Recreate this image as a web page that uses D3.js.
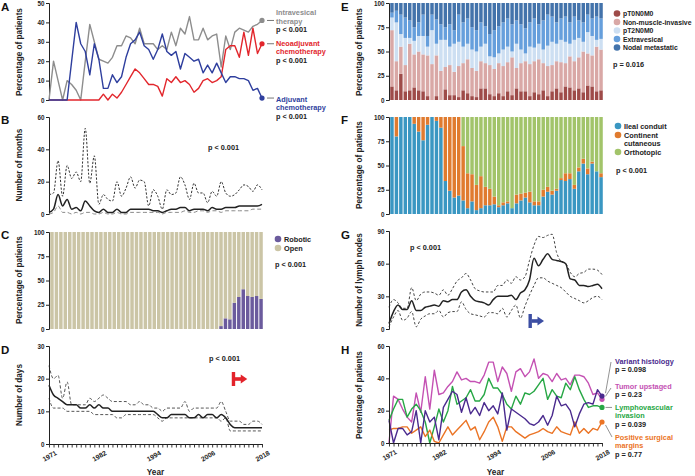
<!DOCTYPE html>
<html><head><meta charset="utf-8">
<script src="https://cdn.jsdelivr.net/npm/d3@7"></script>
<style>body{margin:0;background:#fff}svg{display:block}</style>
</head><body><svg id="c" width="695" height="476"></svg>
<script>
// ---------- DATA ----------
const years = [1971,1972,1973,1974,1975,1976,1977,1978,1979,1980,1981,1982,1983,1984,1985,1986,1987,1988,1989,1990,1991,1992,1993,1994,1995,1996,1997,1998,1999,2000,2001,2002,2003,2004,2005,2006,2007,2008,2009,2010,2011,2012,2013,2014,2015,2016,2017,2018];
const yearLabels = [1971, 1982, 1994, 2006, 2018];

// A: percentage of patients receiving therapy
const intravesical = [0,20,10,0,10,8,5,0,20,39, 30,21,20,19,22,28,28,33,32,29, 37,29,29,29,26,28,26,35,28,37, 34,43,31,31,37,31,33,34,17,33, 26,35,37,36,35,38,39,41];
const neoadjuvant  = [0,0,0,0,0,0,0,0,0,0, 0,0,3,0,3,1,4,8,12,16, 14,11,8,8,7,2,11,9,12,9, 10,8,4,6,10,11,9,10,12,26, 28,28,22,35,23,37,24,29];
const adjuvant     = [0,0,0,0,0,20,40,29,25,13, 29,21,6,6,13,9,12,22,29,31, 35,28,26,21,26,34,25,23,25,16, 24,22,20,21,14,18,14,19,14,9, 12,12,11,11,10,5,6,1];
const pA = ["p < 0.001", "p < 0.001", "p < 0.001"];

// B: number of months (median, IQR)
const monthsMedian = [1,3,12,5,9,3,4,2,8,5, 2,1,3,1,1,3,1,1,3,3, 3,3,3,2,2,1,2,3,3,4, 4,2,3,3,3,2,4,3,3,4, 4,4,5,5,5,5,5,6];
const monthsUpper  = [12,13,33,11,30,22,26,20,53,19, 36,6,12,9,8,20,11,16,23,16, 21,20,5,15,11,3,15,12,13,23, 18,9,19,13,13,7,14,11,20,13, 11,12,15,18,17,14,18,15];
const monthsLower  = [0,1,5,1,1,0,1,0,1,1, 0,0,1,0,0,1,0,0,1,1, 1,1,1,1,1,0,1,1,1,1, 2,1,1,2,2,1,2,2,1,2, 2,2,2,2,2,3,3,3];

// C: surgical approach (%)
const robotic = [0,0,0,0,0,0,0,0,0,0, 0,0,0,0,0,0,0,0,0,0, 0,0,0,0,0,0,0,0,0,0, 0,0,0,0,0,0,0,0,3,11, 10,27,33,41,34,33,34,31];
const openSurg = [100,100,100,100,100,100,100,100,100,100, 100,100,100,100,100,100,100,100,100,100, 100,100,100,100,100,100,100,100,100,100, 100,100,100,100,100,100,100,100,97,89, 90,73,67,59,66,67,66,69];

// D: number of days (median, IQR)
const daysMedian = [18,15,14,13,12,12,12,11,11,12, 11,12,11,11,10,10,10,10,10,10, 10,10,10,10,9,8,8,9,9,9, 9,8,8,9,8,9,9,8,9,8, 6,5,5,5,5,5,5,5];
const daysUpper  = [24,20,21,14,19,12,12,12,12,14, 13,14,15,14,13,13,13,13,12,12, 13,12,12,11,11,10,11,11,11,11, 13,10,11,11,11,11,11,11,13,10, 7,7,7,6,6,7,7,6];
const daysLower  = [14,11,11,11,10,10,10,10,10,10, 9,9,9,9,9,8,8,9,9,9, 9,9,9,9,8,7,8,8,8,8, 8,8,8,8,8,8,8,8,7,8, 4,4,4,4,4,4,4,4];

// E: pathological stage (%)
const pT0N0M0    = [14,10,27,9,10,13,10,9,4,0, 4,0,11,5,5,3,10,7,4,3, 12,12,6,4,7,4,9,5,12,9, 9,4,8,6,10,4,9,12,8,14, 13,10,12,8,15,14,9,10];
const nonMuscle  = [58,30,28,27,48,34,40,38,42,37, 42,30,23,31,24,32,28,35,29,27, 28,26,30,28,31,31,30,39,21,29, 31,33,32,36,28,31,27,28,31,24, 32,30,32,42,33,32,46,42];
const pT2N0M0    = [13,40,13,28,6,14,16,19,9,35, 12,32,28,19,29,25,17,16,19,20, 15,20,9,12,10,17,16,6,25,14, 8,18,14,16,14,21,24,18,23,22, 13,22,20,10,22,20,7,11];
const extravesical = [5,12,20,21,18,14,14,22,11,16, 25,16,13,23,14,28,25,26,23,22, 25,18,23,28,28,28,29,28,24,26, 26,25,30,20,30,32,26,22,22,26, 22,24,18,20,18,18,24,21];
const nodalMet   = [10,8,12,15,18,25,20,12,34,12, 17,22,25,22,28,12,20,16,25,28, 20,24,32,28,24,20,16,22,18,22, 26,20,16,22,18,12,14,20,16,14, 20,14,18,20,12,16,14,16];

// F: urinary diversion (%)
const ileal      = [100,80,100,100,100,93,85,76,92,100, 96,89,34,24,17,19,14,6,13,4, 6,9,9,10,7,9,11,6,11,14, 17,12,9,9,18,23,20,24,35,34, 36,26,44,52,41,52,44,38];
const continent  = [0,20,0,0,0,7,15,24,8,0, 4,11,66,76,83,81,56,36,28,26, 33,19,17,8,2,3,2,0,9,7, 5,11,4,4,7,5,4,2,2,8, 6,4,4,5,6,2,0,4];
const orthotopic = [0,0,0,0,0,0,0,0,0,0, 0,0,0,0,0,0,30,58,59,70, 61,72,74,82,91,88,87,94,80,79, 78,77,87,87,75,72,76,74,63,58, 58,70,52,43,53,46,56,58];

// G: number of lymph nodes (median, IQR)
const nodesMedian = [5,16,22,18,18,26,17,17,20,21, 22,21,26,25,27,27,34,36,30,26, 25,24,22,27,30,30,30,31,27,33, 36,45,65,58,64,69,64,63,62,60, 46,45,40,40,39,40,41,37];
const nodesUpper  = [20,27,24,19,19,38,26,32,34,34, 33,31,36,31,37,44,47,51,45,37, 35,34,34,34,40,40,45,42,48,45, 48,63,77,85,84,86,87,70,62,60, 52,48,51,52,55,55,54,50];
const nodesLower  = [2,11,17,8,10,16,2,9,12,14, 14,17,11,15,16,16,25,18,14,13, 12,11,15,15,14,19,11,17,22,10, 21,31,40,47,47,44,42,40,38,34, 30,28,26,24,26,29,30,27];

// H: pathology features (%)
const variantHist  = [14,0,9,9,5,7,20,0,20,13, 16,2,22,27,32,30,19,28,18,22, 17,25,20,23,18,31,8,21,19,17, 15,12,11,13,17,11,17,29,23,24, 20,10,18,24,25,24,33,29];
const tumorUpstaged = [0,29,27,21,16,13,31,19,41,21, 45,30,31,35,38,44,39,40,38,38, 37,42,50,50,38,47,43,32,44,46, 41,44,52,40,43,42,38,43,39,40, 36,42,42,41,37,30,31,27];
const lymphovascular = [14,21,27,27,16,21,24,20,13,0, 10,21,13,20,35,24,26,28,33,26, 26,30,40,34,34,30,24,21,29,24, 31,30,32,36,40,27,33,29,28,37, 33,41,33,27,22,23,23,22];
const positiveMargins = [8,9,9,10,10,6,8,10,4,8, 1,0,5,10,5,8,11,14,8,10, 2,7,13,16,10,1,10,10,7,5, 3,5,6,7,9,7,6,10,7,6, 5,13,6,9,6,9,8,13];

// ---------- DRAWING ----------
const FONT = '"Liberation Sans", Arial, Helvetica, sans-serif';
const svg = d3.select("#c").attr("font-family", FONT).attr("font-weight", "bold");
const INK = "#222";
const LC = {x0: 49, x1: 262}, RC = {x0: 389, x1: 602};

function txt(x, y, s, opts = {}) {
  return svg.append("text").attr("x", x).attr("y", y).text(s)
    .attr("font-size", opts.size || 7.3).attr("fill", opts.fill || INK)
    .attr("text-anchor", opts.anchor || "start");
}
function panelLetter(x, y, s) { txt(x, y, s, {size: 11.5, fill: "#111"}); }
function yTitle(x, yc, s) {
  svg.append("text").attr("transform", `translate(${x},${yc}) rotate(-90)`)
    .attr("text-anchor", "middle").attr("font-size", 8.2).attr("fill", INK).text(s);
}
function yAxis(col, y, ticks) {
  const g = svg.append("g").attr("transform", `translate(${col.x0},0)`)
    .call(d3.axisLeft(y).tickValues(ticks).tickSize(3).tickSizeOuter(3));
  g.attr("font-family", FONT).attr("font-size", 6.3).attr("font-weight", "bold");
  g.select(".domain").attr("stroke", INK).attr("stroke-width", 1);
  g.selectAll(".tick line").attr("stroke", INK).attr("stroke-width", 1);
  g.selectAll(".tick text").attr("fill", INK).attr("x", -4.5);
  return g;
}
function xAxis(x, y0) {
  const g = svg.append("g").attr("transform", `translate(0,${y0})`)
    .call(d3.axisBottom(x).tickValues(years).tickSize(3.5).tickSizeOuter(0)
      .tickFormat(d => yearLabels.includes(d) ? d : ""));
  g.attr("font-family", FONT).attr("font-size", 6.8).attr("font-weight", "bold");
  g.select(".domain").attr("stroke", INK).attr("stroke-width", 1);
  g.selectAll(".tick line").attr("stroke", INK).attr("stroke-width", 0.9);
  g.selectAll(".tick text").attr("fill", INK).attr("x", 0).attr("y", 0).attr("dy", "0.35em")
    .attr("text-anchor", "middle").attr("transform", "translate(0,12) rotate(-30)");
}
function drawLine(x, y, data, opts) {
  const line = d3.line().x((d, i) => x(years[i])).y(d => y(d));
  if (opts.curve) line.curve(opts.curve);
  svg.append("path").datum(data).attr("d", line).attr("fill", "none")
    .attr("stroke", opts.color).attr("stroke-width", opts.width || 1.4)
    .attr("stroke-dasharray", opts.dash || null).attr("stroke-linejoin", "round");
}
function bars(col, y, keys, arrays, colors) {
  const x = d3.scaleBand(years, [col.x0 + 1, col.x1 + 1]).paddingInner(0.22).paddingOuter(0.05);
  const rows = years.map((yr, i) => { const r = {year: yr}; keys.forEach((k, j) => r[k] = arrays[j][i]); return r; });
  const st = d3.stack().keys(keys)(rows);
  svg.append("g").selectAll("g").data(st).join("g").attr("fill", (d, j) => colors[j])
    .selectAll("rect").data(d => d).join("rect")
    .attr("x", d => x(d.data.year)).attr("width", x.bandwidth())
    .attr("y", d => y(d[1])).attr("height", d => Math.max(0, y(d[0]) - y(d[1])));
}
function legend(cx, items, size) {
  items.forEach(it => {
    if (it.color) svg.append("circle").attr("cx", cx).attr("cy", it.y).attr("r", 3.3).attr("fill", it.color);
    txt(cx + 6, it.y + 2.6, it.label, {size: size || 7.3});
  });
}
function arrow(x, yc, color) {
  const g = svg.append("g").attr("fill", color);
  g.append("rect").attr("x", x).attr("y", yc - 7).attr("width", 3.4).attr("height", 14);
  g.append("rect").attr("x", x + 3).attr("y", yc - 1.8).attr("width", 7).attr("height", 3.6);
  g.append("path").attr("d", `M${x + 9},${yc - 4.5} L${x + 15.5},${yc} L${x + 9},${yc + 4.5} Z`);
}

// ----- A -----
{
  const x = d3.scalePoint(years, [LC.x0, LC.x1]);
  const y = d3.scaleLinear([0, 50], [100, 3]);
  panelLetter(1, 11, "A");
  yTitle(22, 52, "Percentage of patients");
  yAxis(LC, y, [0, 10, 20, 30, 40, 50]);
  const ser = [
    {d: intravesical, c: "#8d8d8d", lab: ["Intravesical", "therapy"], ty: [15, 23.5, 31.5]},
    {d: neoadjuvant, c: "#e2262c", lab: ["Neoadjuvant", "chemotherapy"], ty: [45.5, 54, 62.5]},
    {d: adjuvant, c: "#2f3f9e", lab: ["Adjuvant", "chemotherapy"], ty: [101.5, 110, 118.5]}
  ];
  ser.forEach(s => drawLine(x, y, s.d, {color: s.c, width: 1.4}));
  ser.forEach((s, k) => {
    const last = s.d[s.d.length - 1];
    const cx = x(years[years.length - 1]), cy = y(last);
    svg.append("circle").attr("cx", cx).attr("cy", cy).attr("r", 2.6).attr("fill", s.c);
    svg.append("line").attr("x1", cx + 5).attr("x2", cx + 12).attr("y1", cy).attr("y2", cy).attr("stroke", "#777").attr("stroke-width", 1);
    txt(276, s.ty[0], s.lab[0], {fill: s.c});
    txt(276, s.ty[1], s.lab[1], {fill: s.c});
    txt(276, s.ty[2], pA[k]);
  });
}

// ----- B -----
{
  const x = d3.scalePoint(years, [LC.x0, LC.x1]);
  const y = d3.scaleLinear([0, 60], [214, 117]);
  panelLetter(1, 124, "B");
  yTitle(22, 165, "Number of months");
  yAxis(LC, y, [0, 20, 40, 60]);
  drawLine(x, y, monthsLower, {color: "#8a8a8a", width: 1, dash: "4,2.5", curve: d3.curveMonotoneX});
  drawLine(x, y, monthsUpper, {color: "#333", width: 1, dash: "2.2,1.6", curve: d3.curveMonotoneX});
  drawLine(x, y, monthsMedian, {color: "#222", width: 1.5, curve: d3.curveMonotoneX});
  txt(208, 150, "p < 0.001");
}

// ----- C -----
{
  const y = d3.scaleLinear([0, 100], [329, 232]);
  panelLetter(1, 238.5, "C");
  yTitle(22, 280, "Percentage of patients");
  bars(LC, y, ["robotic", "open"], [robotic, openSurg], ["#6b5b9d", "#cbc5a6"]);
  yAxis(LC, y, [0, 25, 50, 75, 100]);
  legend(278, [{y: 239, label: "Robotic", color: "#6b5b9d"}, {y: 248, label: "Open", color: "#cbc5a6"}]);
  txt(275, 266.5, "p < 0.001");
}

// ----- D -----
{
  const x = d3.scalePoint(years, [LC.x0, LC.x1]);
  const y = d3.scaleLinear([0, 30], [444, 346]);
  panelLetter(1, 354, "D");
  yTitle(22, 395, "Number of days");
  drawLine(x, y, daysUpper, {color: "#555", width: 1, dash: "3,2", curve: d3.curveMonotoneX});
  drawLine(x, y, daysLower, {color: "#555", width: 1, dash: "3,2", curve: d3.curveMonotoneX});
  drawLine(x, y, daysMedian, {color: "#222", width: 1.5, curve: d3.curveMonotoneX});
  yAxis(LC, y, [0, 10, 20, 30]);
  xAxis(x, 444);
  txt(209, 360.5, "p < 0.001");
  arrow(x(2011) + 1.5, 379, "#e3232b");
  txt((LC.x0 + LC.x1) / 2, 475, "Year", {size: 8.2, anchor: "middle"});
}

// ----- E -----
{
  const y = d3.scaleLinear([0, 100], [100, 3]);
  panelLetter(341, 11, "E");
  yTitle(362, 52, "Percentage of patients");
  const cols = ["#9e4b49", "#d9a8a6", "#cddff2", "#669fdc", "#4373ab"];
  bars(RC, y, ["t0", "nmi", "t2", "ev", "nm"], [pT0N0M0, nonMuscle, pT2N0M0, extravesical, nodalMet], cols);
  yAxis(RC, y, [0, 25, 50, 75, 100]);
  const labs = ["pT0N0M0", "Non-muscle-invasive", "pT2N0M0", "Extravesical", "Nodal metastatic"];
  legend(617, labs.map((l, i) => ({y: 13.5 + i * 8.5, label: l, color: cols[i]})), 6.85);
  txt(613, 66.5, "p = 0.016");
}

// ----- F -----
{
  const y = d3.scaleLinear([0, 100], [214, 117]);
  panelLetter(341, 124, "F");
  yTitle(362, 165, "Percentage of patients");
  const cols = ["#3a97c2", "#e07b2f", "#a2c46a"];
  bars(RC, y, ["il", "cc", "or"], [ileal, continent, orthotopic], cols);
  yAxis(RC, y, [0, 25, 50, 75, 100]);
  legend(618, [
    {y: 126, label: "Ileal conduit", color: cols[0]},
    {y: 135, label: "Continent", color: cols[1]},
    {y: 143.5, label: "cutaneous"},
    {y: 152, label: "Orthotopic", color: cols[2]}
  ]);
  txt(616, 172.5, "p < 0.001");
}

// ----- G -----
{
  const x = d3.scalePoint(years, [RC.x0, RC.x1]);
  const y = d3.scaleLinear([0, 90], [329, 231]);
  panelLetter(341, 238.5, "G");
  yTitle(362, 280, "Number of lymph nodes");
  drawLine(x, y, nodesUpper, {color: "#444", width: 1, dash: "2.5,2", curve: d3.curveMonotoneX});
  drawLine(x, y, nodesLower, {color: "#444", width: 1, dash: "2.5,2", curve: d3.curveMonotoneX});
  drawLine(x, y, nodesMedian, {color: "#222", width: 1.5, curve: d3.curveMonotoneX});
  yAxis(RC, y, [0, 30, 60, 90]);
  txt(410, 250, "p < 0.001");
  arrow(x(2002) - 1, 321, "#3c4ea3");
}

// ----- H -----
{
  const x = d3.scalePoint(years, [RC.x0, RC.x1]);
  const y = d3.scaleLinear([0, 60], [443, 346]);
  panelLetter(341, 354, "H");
  yTitle(362, 395, "Percentage of patients");
  const ser = [
    {d: tumorUpstaged, c: "#c451b3"},
    {d: lymphovascular, c: "#27a745"},
    {d: positiveMargins, c: "#eb7425"},
    {d: variantHist, c: "#4a2a8e"}
  ];
  ser.forEach(s => drawLine(x, y, s.d, {color: s.c, width: 1.4}));
  yAxis(RC, y, [0, 20, 40, 60]);
  xAxis(x, 443);
  const lx = x(years[years.length - 1]);
  const lead = [
    {d: variantHist, tx: 611, ty: 362},
    {d: tumorUpstaged, tx: 611, ty: 388},
    {d: lymphovascular, tx: 612, ty: null},
    {d: positiveMargins, tx: 612, ty: 437}
  ];
  lead.forEach(l => {
    const cy = y(l.d[l.d.length - 1]);
    svg.append("line").attr("x1", lx + 3.5).attr("y1", l.ty === null ? cy : cy + (l.ty > cy ? 3 : -3))
      .attr("x2", l.tx).attr("y2", l.ty === null ? cy : l.ty).attr("stroke", "#888").attr("stroke-width", 0.9);
  });
  ser.forEach(s => svg.append("circle").attr("cx", lx).attr("cy", y(s.d[s.d.length - 1])).attr("r", 2.6).attr("fill", s.c));
  txt(615, 363.5, "Variant histology", {fill: "#4a2a8e"});
  txt(615, 371.5, "p = 0.098");
  txt(615, 388.5, "Tumor upstaged", {fill: "#c451b3"});
  txt(615, 396.5, "p = 0.23");
  txt(615, 409.5, "Lymphovascular", {fill: "#27a745"});
  txt(615, 418, "invasion", {fill: "#27a745"});
  txt(615, 427, "p = 0.039");
  txt(615, 439.5, "Positive surgical", {fill: "#eb7425"});
  txt(615, 448, "margins", {fill: "#eb7425"});
  txt(615, 456.5, "p = 0.77");
  txt((RC.x0 + RC.x1) / 2, 475, "Year", {size: 8.2, anchor: "middle"});
}
</script></body></html>
